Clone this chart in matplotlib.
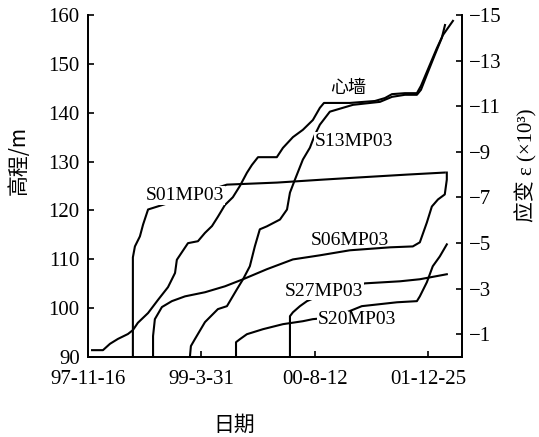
import matplotlib
matplotlib.use("Agg")
import matplotlib.pyplot as plt

# ---- data (x = days since 97-11-16) ----
core_days = [18, 66, 97, 132, 176, 198, 220, 265, 309, 353, 384, 392, 415, 441, 485, 516, 547, 573,
             604, 639, 670, 701, 723, 750, 833, 860, 904, 948, 992, 1023, 1041, 1155, 1266, 1310,
             1341, 1398, 1451, 1469, 1508, 1539, 1566, 1610]
core_elev = [91.4, 91.4, 92.7, 93.7, 94.7, 95.5, 97.0, 99.0, 101.7, 104.3, 107.2, 109.9, 111.5, 113.3,
             113.7, 115.4, 116.8, 118.7, 121.1, 122.7, 125.0, 127.7, 129.3, 130.9, 130.9, 132.8,
             135.0, 136.5, 138.5, 141.0, 142.0, 142.0, 142.4, 143.0, 143.8, 144.0, 144.0, 145.5,
             149.8, 153.2, 155.9, 158.8]

s01_days = [198, 198, 207, 229, 243, 265, 613, 834, 1036, 1186, 1407, 1574]
s01_strain = [-0.05, -4.37, -4.85, -5.29, -5.81, -6.47, -7.56, -7.65, -7.78, -7.87, -8.00, -8.09]

s13_days = [450, 454, 472, 516, 573, 613, 657, 684, 714, 736, 758, 789, 847, 878, 891, 913, 948,
            979, 1001, 1023, 1067, 1169, 1288, 1341, 1398, 1451, 1469, 1495, 1530, 1561, 1575]
s13_strain = [-0.05, -0.48, -0.79, -1.53, -2.10, -2.23, -2.97, -3.41, -3.98, -4.85, -5.60, -5.73,
              -6.03, -6.47, -7.21, -7.78, -8.66, -9.18, -9.75, -10.19, -10.76, -11.06, -11.19,
              -11.41, -11.50, -11.50, -11.72, -12.38, -13.25, -14.00, -14.56]

s06_days = [287, 287, 295, 326, 370, 428, 516, 604, 684, 789, 904, 1023, 1155, 1332, 1433, 1464,
            1495, 1517, 1544, 1574, 1583, 1583]
s06_strain = [-0.05, -0.92, -1.66, -2.19, -2.45, -2.66, -2.84, -3.10, -3.41, -3.85, -4.28, -4.46,
              -4.68, -4.81, -4.85, -5.03, -5.90, -6.60, -6.91, -7.13, -7.78, -8.09]

s20_days = [653, 653, 670, 701, 772, 860, 948, 992, 1089, 1208, 1363, 1451, 1464, 1495, 1521, 1552, 1583]
s20_strain = [-0.05, -0.65, -0.78, -1.00, -1.22, -1.44, -1.57, -1.66, -1.75, -2.23, -2.40, -2.45,
              -2.66, -3.28, -3.98, -4.41, -4.94]

s27_days = [891, 891, 904, 935, 966, 1067, 1222, 1376, 1464, 1583]
s27_strain = [-0.05, -1.79, -1.96, -2.23, -2.45, -2.88, -3.23, -3.32, -3.41, -3.63]

x_ticks = [0, 500, 1000, 1500]
x_labels = ["97-11-16", "99-3-31", "00-8-12", "01-12-25"]
elev_ticks = [90, 100, 110, 120, 130, 140, 150, 160]
strain_ticks = [-1, -3, -5, -7, -9, -11, -13, -15]

labels = ["心墙", "S13MP03", "S01MP03", "S06MP03", "S27MP03", "S20MP03"]
label_x = [1147, 1173, 428, 1155, 1041, 1186]
label_y = [145.1, 134.2, 123.0, 113.9, 103.5, 97.6]
label_box = [False, True, True, False, True, True]

# ---- figure ----
SERIF = ["Liberation Serif", "DejaVu Serif"]
CJK = ["Noto Sans CJK SC", "DejaVu Sans"]

fig = plt.figure(figsize=(5.39, 4.37), dpi=100)
ax = fig.add_axes([88 / 539, 1 - 357 / 437, (462 - 88) / 539, (357 - 15) / 437])
ax2 = ax.twinx()

lw = 1.5
ax.plot(core_days, core_elev, color="black", lw=lw)
for d, s in [(s01_days, s01_strain), (s13_days, s13_strain), (s06_days, s06_strain),
             (s20_days, s20_strain), (s27_days, s27_strain)]:
    ax2.plot(d, s, color="black", lw=lw, solid_joinstyle="round")

ax.set_xlim(0, 1650)
ax.set_ylim(90, 160)
ax2.set_ylim(0, -15)

ax.set_xticks(x_ticks)
ax.set_xticklabels(x_labels)
ax.set_yticks(elev_ticks)
ax2.set_yticks(strain_ticks)

for a in (ax, ax2):
    a.spines["top"].set_visible(False)
    for sp in a.spines.values():
        sp.set_linewidth(1.3)
    a.tick_params(direction="in", length=4, width=1.2, labelsize=15)
    for t in a.get_xticklabels() + a.get_yticklabels():
        t.set_family(SERIF)
ax.tick_params(axis="y", pad=6)
ax.tick_params(axis="x", pad=9)
ax2.tick_params(axis="y", pad=5)

for txt, x, y, box in zip(labels, label_x, label_y, label_box):
    fam = CJK if txt == "心墙" else SERIF
    kw = dict(transform=ax.transData, ha="center", va="center", fontsize=14 if txt != "心墙" else 13,
              family=fam, zorder=10)
    if box:
        kw["bbox"] = dict(facecolor="white", edgecolor="none", pad=0.5)
    ax2.text(x, y, txt, **kw)

fig.text(19 / 539, 1 - 160 / 437, "高程/m", rotation=90, ha="center", va="center",
         fontsize=15, family=CJK)
fig.text(526 / 539, 1 - 165 / 437, "应变 ε (×10³)", rotation=90, ha="center", va="center",
         fontsize=15, family=["Liberation Serif", "Noto Sans CJK SC"])
fig.text(234 / 539, 1 - 425 / 437, "日期", ha="center", va="center", fontsize=15, family=CJK)

fig.savefig("out.png", dpi=100)
